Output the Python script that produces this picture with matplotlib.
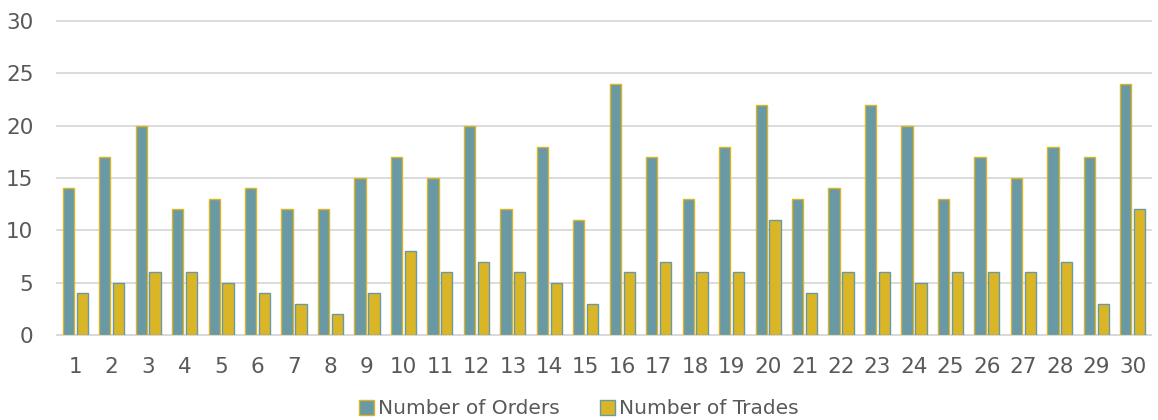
import matplotlib
matplotlib.use("Agg")
import matplotlib.pyplot as plt
import numpy as np
from matplotlib.patches import Patch

days = list(range(1, 31))
orders = [14, 17, 20, 12, 13, 14, 12, 12, 15, 17, 15, 20, 12, 18, 11, 24, 17, 13, 18, 22,
          13, 14, 22, 20, 13, 17, 15, 18, 17, 24]
trades = [4, 5, 6, 6, 5, 4, 3, 2, 4, 8, 6, 7, 6, 5, 3, 6, 7, 6, 6, 11,
          4, 6, 6, 5, 6, 6, 6, 7, 3, 12]
series_names = ["Number of Orders", "Number of Trades"]
yticks = [0, 5, 10, 15, 20, 25, 30]

teal = "#6899A4"
gold = "#DAB626"
text_col = "#595959"
grid_col = "#D9D9D9"

plt.rcParams['font.family'] = ['DejaVu Sans']

fig = plt.figure(figsize=(11.58, 4.2), dpi=100)
ax = fig.add_axes([57 / 1158, 1 - 335 / 420, (1151 - 57) / 1158, (335 - 21) / 420])

x = np.arange(len(days))
w = 0.31
off = 0.19
ax.bar(x - off, orders, width=w, color=teal, edgecolor=gold, linewidth=1.0, zorder=3)
ax.bar(x + off, trades, width=w, color=gold, edgecolor=teal, linewidth=1.0, zorder=3)

ax.set_xlim(-0.5, len(days) - 0.5)
ax.set_ylim(0, 30)
ax.set_yticks(yticks)
ax.set_xticks(x)
ax.set_xticklabels([str(d) for d in days])
ax.yaxis.grid(True, color=grid_col, linewidth=1.3, zorder=0, clip_on=False)
ax.set_axisbelow(True)
for s in ["top", "right", "left"]:
    ax.spines[s].set_visible(False)
ax.spines["bottom"].set_color(grid_col)
ax.spines["bottom"].set_linewidth(1.3)
ax.tick_params(axis="both", length=0, labelsize=15.5, labelcolor=text_col)
ax.tick_params(axis="x", pad=16)
ax.tick_params(axis="y", pad=17)

handles = [Patch(facecolor=teal, edgecolor=gold, linewidth=1.0),
           Patch(facecolor=gold, edgecolor=teal, linewidth=1.0)]
fig.legend(handles, series_names, loc="center", bbox_to_anchor=(0.5, 1 - 409 / 420),
           ncol=2, frameon=False, fontsize=14.5, labelcolor=text_col,
           handlelength=0.75, handleheight=0.75, handletextpad=0.2, columnspacing=2.0,
           borderaxespad=0)

fig.savefig("out.png", dpi=100)
